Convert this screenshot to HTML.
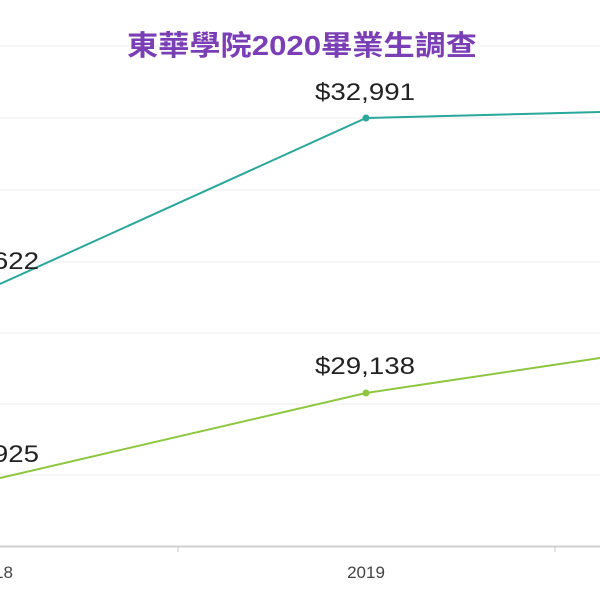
<!DOCTYPE html>
<html><head><meta charset="utf-8"><style>
body{margin:0;background:#fff;}
</style></head><body>
<svg width="600" height="600" xmlns="http://www.w3.org/2000/svg" style="display:block">
<rect width="600" height="600" fill="#fff"/>
<g stroke="#ececec" stroke-width="1">
<line x1="0" y1="46" x2="600" y2="46"/>
<line x1="0" y1="118" x2="600" y2="118"/>
<line x1="0" y1="190" x2="600" y2="190"/>
<line x1="0" y1="262" x2="600" y2="262"/>
<line x1="0" y1="333" x2="600" y2="333"/>
<line x1="0" y1="404" x2="600" y2="404"/>
<line x1="0" y1="475" x2="600" y2="475"/>
</g>
<line x1="0" y1="546.5" x2="600" y2="546.5" stroke="#d0d0d0" stroke-width="2"/>
<line x1="178" y1="546" x2="178" y2="552" stroke="#c8c8c8" stroke-width="1"/>
<line x1="555" y1="546" x2="555" y2="552" stroke="#c8c8c8" stroke-width="1"/>
<text x="302" y="55" text-anchor="middle" font-family="'Liberation Sans','Noto Sans CJK TC',sans-serif" font-size="28" font-weight="bold" fill="#7a3fb5" textLength="350" lengthAdjust="spacingAndGlyphs">東華學院2020畢業生調查</text>
<polyline points="0,284 366,118 600,112" fill="none" stroke="#2aa79b" stroke-width="2"/>
<circle cx="366" cy="118" r="3.5" fill="#2aa79b"/>
<polyline points="0,478 366,393 600,358" fill="none" stroke="#8dc63f" stroke-width="2"/>
<circle cx="366" cy="393" r="3.5" fill="#8dc63f"/>
<g font-family="'Liberation Sans',sans-serif" font-size="24" fill="#222">
<text x="315" y="100" textLength="100" lengthAdjust="spacingAndGlyphs">$32,991</text>
<text x="315" y="374" textLength="100" lengthAdjust="spacingAndGlyphs">$29,138</text>
<text x="-61" y="269" textLength="100" lengthAdjust="spacingAndGlyphs">$25,622</text>
<text x="-61" y="462" textLength="100" lengthAdjust="spacingAndGlyphs">$24,925</text>
</g>
<g font-family="'Liberation Sans',sans-serif" font-size="17" fill="#444">
<text x="366" y="578" text-anchor="middle">2019</text>
<text x="13" y="578" text-anchor="end">2018</text>
</g>
</svg>
</body></html>
